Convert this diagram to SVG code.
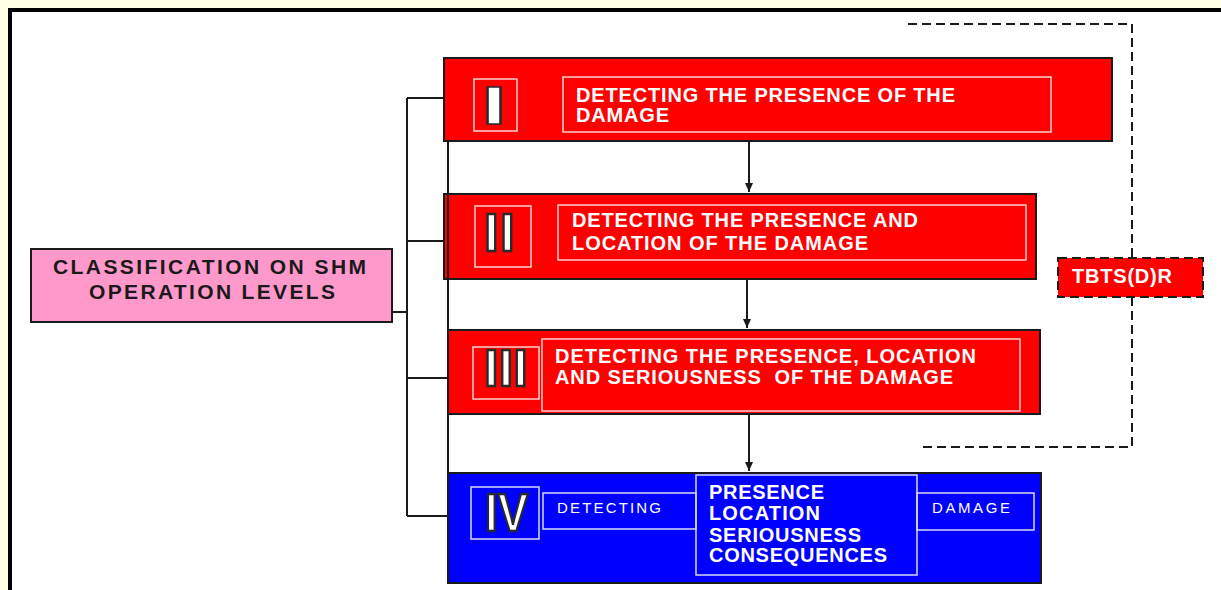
<svg xmlns="http://www.w3.org/2000/svg" width="1221" height="590" viewBox="0 0 1221 590">
  <defs>
    <style>
      .box { stroke: #1a1a1a; stroke-width: 2; }
      .red { fill: #ff0000; }
      .blue { fill: #0000ff; }
      .inR { fill: none; stroke: #ffcfcf; stroke-width: 1.5; }
      .inB { fill: none; stroke: #d8d8ff; stroke-width: 1.5; }
      .t { font-family: "Liberation Sans", Arial, sans-serif; font-weight: bold; font-size: 20px; fill: #ffffff; white-space: pre; }
      .tn { font-family: "Liberation Sans", Arial, sans-serif; font-weight: normal; font-size: 15px; fill: #ffffff; }
      .rom { font-family: "Liberation Sans", Arial, sans-serif; font-weight: bold; font-size: 53px; fill: #ffffff; stroke: #2a2a2a; stroke-width: 2.4; paint-order: normal; }
      .line { fill: none; stroke: #1a1a1a; stroke-width: 2; }
      .dash { fill: none; stroke: #1a1a1a; stroke-width: 2; stroke-dasharray: 9 5; }
    </style>
    <marker id="ah" markerWidth="9" markerHeight="8" refX="9" refY="4" orient="auto" markerUnits="userSpaceOnUse" viewBox="0 0 9 8">
      <path d="M0,0 L9,4 L0,8 Z" fill="#1a1a1a"/>
    </marker>
  </defs>

  <rect x="0" y="0" width="1221" height="590" fill="#ffffe6"/>
  <rect x="10" y="10" width="1240" height="620" fill="#ffffff" stroke="#000000" stroke-width="4"/>

  <g id="classification">
    <rect x="31" y="249" width="361" height="73" fill="#ff99cc" class="box"/>
    <text x="53" y="274" class="t" style="fill:#1a1a1a;font-size:21px" textLength="313" lengthAdjust="spacing">CLASSIFICATION ON SHM</text>
    <text x="89" y="299" class="t" style="fill:#1a1a1a;font-size:21px" textLength="246" lengthAdjust="spacing">OPERATION LEVELS</text>
  </g>

  <g id="level1">
    <rect x="444" y="58" width="668" height="83" class="box red"/>
    <rect x="474" y="79" width="43" height="52" class="inR"/>
    <text class="rom" transform="translate(494,124) scale(1.7,1)" text-anchor="middle" style="stroke-width:1.5">I</text>
    <rect x="563" y="77" width="488" height="55" class="inR"/>
    <text x="576" y="102" class="t" textLength="379" lengthAdjust="spacing">DETECTING THE PRESENCE OF THE</text>
    <text x="576" y="122" class="t" textLength="93" lengthAdjust="spacing">DAMAGE</text>
  </g>

  <g id="level2">
    <rect x="444" y="194" width="592" height="85" class="box red"/>
    <rect x="475" y="206" width="56" height="61" class="inR"/>
    <text x="484" y="251" class="rom" style="letter-spacing:1.3px">II</text>
    <rect x="558" y="205" width="468" height="55" class="inR"/>
    <text x="572" y="227" class="t" textLength="346" lengthAdjust="spacing">DETECTING THE PRESENCE AND</text>
    <text x="572" y="250" class="t" textLength="296" lengthAdjust="spacing">LOCATION OF THE DAMAGE</text>
  </g>

  <g id="level3">
    <rect x="448" y="330" width="592" height="84" class="box red"/>
    <rect x="473" y="347" width="66" height="52" class="inR"/>
    <text x="484" y="386" class="rom" style="font-size:52px;letter-spacing:0.2px">III</text>
    <rect x="542" y="339" width="478" height="72" class="inR"/>
    <text x="555" y="363" class="t" textLength="421" lengthAdjust="spacing">DETECTING THE PRESENCE, LOCATION</text>
    <text x="555" y="384" class="t" textLength="398" lengthAdjust="spacing">AND SERIOUSNESS  OF THE DAMAGE</text>
  </g>

  <g id="level4">
    <rect x="448" y="473" width="593" height="110" class="box blue"/>
    <rect x="471" y="487" width="68" height="52" class="inB"/>
    <text x="485" y="531" class="rom" textLength="43" lengthAdjust="spacingAndGlyphs">IV</text>
    <rect x="543" y="493" width="153" height="36" class="inB"/>
    <text x="557" y="513" class="tn" textLength="104" lengthAdjust="spacing">DETECTING</text>
    <rect x="696" y="475" width="221" height="100" class="inB"/>
    <text x="709" y="499" class="t" textLength="115" lengthAdjust="spacing">PRESENCE</text>
    <text x="709" y="520" class="t" textLength="111" lengthAdjust="spacing">LOCATION</text>
    <text x="709" y="542" class="t" textLength="152" lengthAdjust="spacing">SERIOUSNESS</text>
    <text x="709" y="562" class="t" textLength="178" lengthAdjust="spacing">CONSEQUENCES</text>
    <rect x="917" y="493" width="117" height="37" class="inB"/>
    <text x="932" y="513" class="tn" textLength="78" lengthAdjust="spacing">DAMAGE</text>
  </g>

  <g id="tbtsdr">
    <rect x="1058" y="258" width="145" height="39" class="dash" style="fill:#ff0000"/>
    <text x="1072" y="283" class="t" textLength="100" lengthAdjust="spacing">TBTS(D)R</text>
  </g>

  <g id="connectors">
    <line x1="392" y1="312" x2="407" y2="312" class="line"/>
    <line x1="407" y1="98" x2="407" y2="516" class="line"/>
    <line x1="407" y1="98" x2="444" y2="98" class="line"/>
    <line x1="407" y1="241" x2="444" y2="241" class="line"/>
    <line x1="407" y1="378" x2="448" y2="378" class="line"/>
    <line x1="407" y1="516" x2="448" y2="516" class="line"/>
    <line x1="448" y1="141" x2="448" y2="473" class="line"/>
    <line x1="749" y1="141" x2="749" y2="192" class="line" marker-end="url(#ah)"/>
    <line x1="747" y1="279" x2="747" y2="328" class="line" marker-end="url(#ah)"/>
    <line x1="749" y1="414" x2="749" y2="471" class="line" marker-end="url(#ah)"/>
    <path d="M908,24 H1132 V258" class="dash"/>
    <path d="M1132,297 V447 H918" class="dash"/>
  </g>
</svg>
